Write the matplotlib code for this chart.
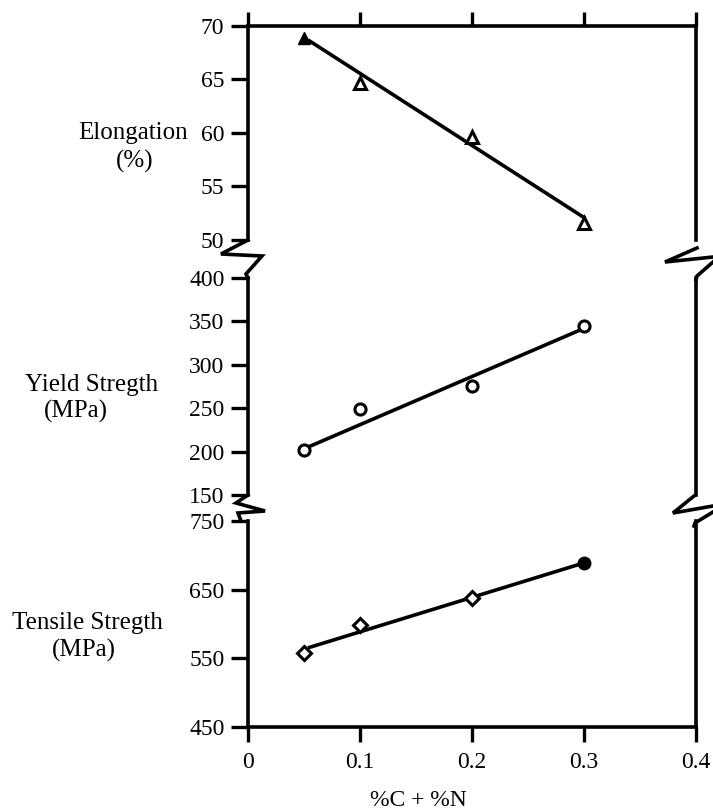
import numpy as np
import matplotlib
matplotlib.use('Agg')
from matplotlib import pyplot as plt
from matplotlib.lines import Line2D

plt.rcParams['font.family'] = ['Liberation Serif', 'DejaVu Serif']

# data
x_pts = [0.05, 0.1, 0.2, 0.3]
fit_x = [0.055, 0.3]

elong = [68.9, 64.7, 59.6, 51.6]
elong_fit = [68.6, 52.1]

yield_s = [202, 249, 276, 345]
yield_fit = [206, 342]

tensile = [558, 599, 638, 689]
tensile_fit = [566, 689]

x_ticks = [0, 0.1, 0.2, 0.3, 0.4]
x_ticklabels = ['0', '0.1', '0.2', '0.3', '0.4']

W, H = 713, 810
fig = plt.figure(figsize=(W / 100, H / 100), dpi=100)


def px_axes(x0, y0, x1, y1):
    # axes box given in pixel coordinates (top-left origin)
    return fig.add_axes([x0 / W, 1 - y1 / H, (x1 - x0) / W, (y1 - y0) / H])


def px_line(xs, ys, lw=2.6):
    fig.add_artist(Line2D([x / W for x in xs], [1 - y / H for y in ys],
                          transform=fig.transFigure, color='black', lw=lw,
                          solid_joinstyle='miter'))


ax_top = px_axes(248, 26, 696, 240)
ax_mid = px_axes(248, 278, 696, 495)
ax_bot = px_axes(248, 521, 696, 727)

for ax in (ax_top, ax_mid, ax_bot):
    ax.set_xlim(0, 0.4)
    for s in ax.spines.values():
        s.set_linewidth(2.6)
    ax.tick_params(axis='y', direction='out', length=12, width=2.4, pad=5, labelsize=17)
    ax.tick_params(axis='x', direction='out', length=11, width=2.4, pad=7, labelsize=17)
    ax.patch.set_alpha(0)

# top panel: elongation
ax_top.plot(fit_x, elong_fit, color='black', lw=2.6)
ax_top.plot(x_pts[:1], elong[:1], '^', color='black', ms=9)
ax_top.plot(x_pts[1:], elong[1:], '^', mfc='white', mec='black', mew=2.2, ms=8)
ax_top.set_ylim(50, 70)
ax_top.set_yticks([50, 55, 60, 65, 70])
ax_top.spines['bottom'].set_visible(False)
ax_top.xaxis.set_ticks_position('top')
ax_top.set_xticks(x_ticks)
ax_top.tick_params(axis='x', labeltop=False, labelbottom=False, length=10)

# middle panel: yield strength
ax_mid.plot(fit_x, yield_fit, color='black', lw=2.6)
ax_mid.plot(x_pts, yield_s, 'o', mfc='white', mec='black', mew=2.2, ms=8)
ax_mid.set_ylim(150, 400)
ax_mid.set_yticks([150, 200, 250, 300, 350, 400])
ax_mid.spines['top'].set_visible(False)
ax_mid.spines['bottom'].set_visible(False)
ax_mid.set_xticks([])

# bottom panel: tensile strength
ax_bot.plot(fit_x, tensile_fit, color='black', lw=2.6)
ax_bot.plot(x_pts[:3], tensile[:3], 'D', mfc='white', mec='black', mew=2.2, ms=7)
ax_bot.plot(x_pts[3:], tensile[3:], 'o', color='black', ms=9)
ax_bot.set_ylim(450, 750)
ax_bot.set_yticks([450, 550, 650, 750])
ax_bot.spines['top'].set_visible(False)
ax_bot.set_xticks(x_ticks)
ax_bot.set_xticklabels(x_ticklabels)
ax_bot.set_xlabel('%C + %N', fontsize=17)
ax_bot.xaxis.set_label_coords((418 - 248) / 448, -(790 - 727) / 206)

# axis-break zigzags
px_line([248, 221, 262, 246, 248], [240, 254, 256, 274, 278])
px_line([248, 236, 265, 238, 241], [495, 503, 511, 513, 521])
px_line([697, 665, 713], [248, 262, 257])
px_line([713, 697, 696], [262, 276, 280])
px_line([694, 673, 713], [496, 513, 506])
px_line([713, 695, 694], [512, 523, 526])

# panel titles
fs = 18
fig.text(133 / W, 1 - 133 / H, 'Elongation', ha='center', va='center', fontsize=fs)
fig.text(135 / W, 1 - 161 / H, '(%)', ha='center', va='center', fontsize=fs)
fig.text(92 / W, 1 - 385 / H, 'Yield Stregth', ha='center', va='center', fontsize=fs)
fig.text(76 / W, 1 - 411 / H, '(MPa)', ha='center', va='center', fontsize=fs)
fig.text(87 / W, 1 - 623 / H, 'Tensile Stregth', ha='center', va='center', fontsize=fs)
fig.text(84 / W, 1 - 650 / H, '(MPa)', ha='center', va='center', fontsize=fs)

fig.savefig('out.png', dpi=100)
plt.close(fig)
